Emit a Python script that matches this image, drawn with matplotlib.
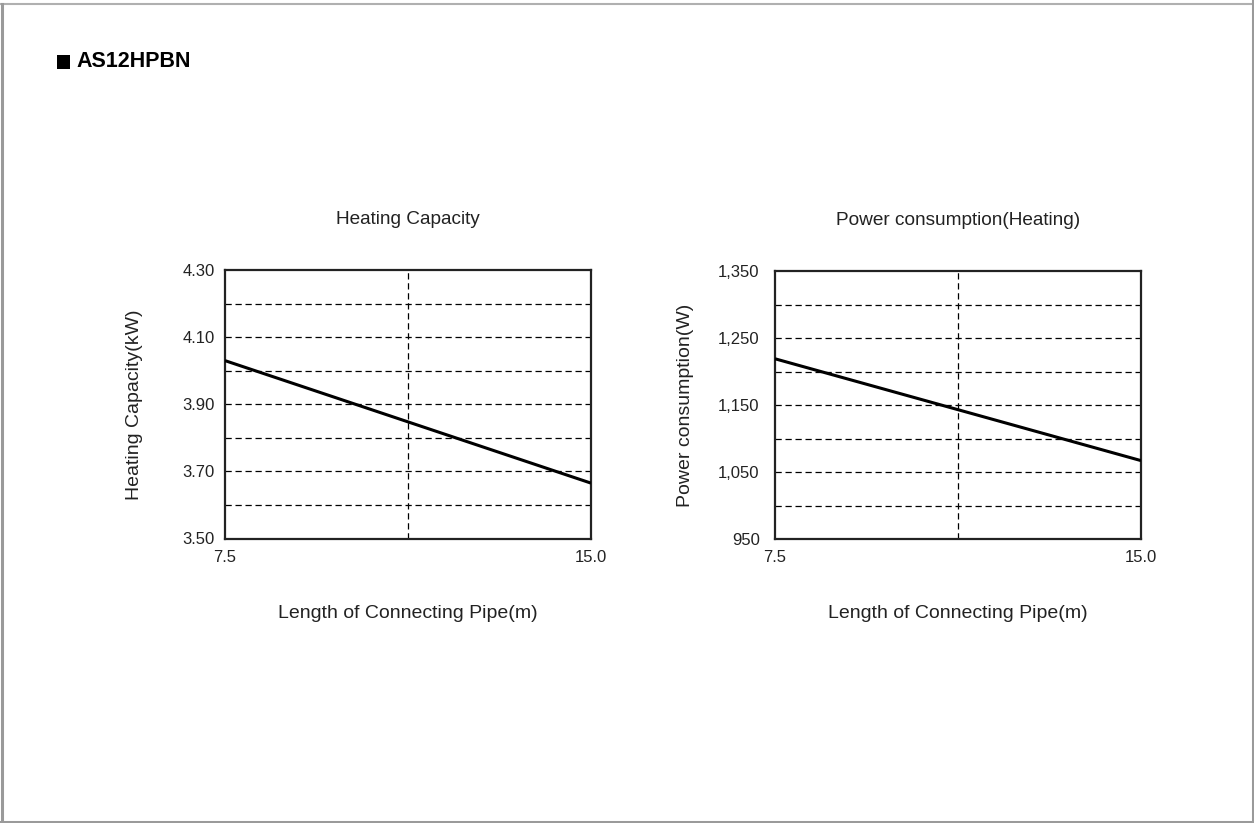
import matplotlib
matplotlib.use("Agg")
import matplotlib.pyplot as plt
from matplotlib.lines import Line2D
from matplotlib.patches import Rectangle

plt.rcParams['font.family'] = ['Liberation Sans', 'DejaVu Sans']

model = "AS12HPBN"
pipe_length = [7.5, 15.0]
heating_capacity = [4.03, 3.665]
power_consumption = [1219, 1067]

cap_ticks = [3.50, 3.70, 3.90, 4.10, 4.30]
cap_ticklabels = ["3.50", "3.70", "3.90", "4.10", "4.30"]
pow_ticks = [950, 1050, 1150, 1250, 1350]
pow_ticklabels = ["950", "1,050", "1,150", "1,250", "1,350"]
x_ticklabels = ["7.5", "15.0"]

fig = plt.figure(figsize=(12.54, 8.23), dpi=100)
W, H = 1254, 823

def fx(px):
    return px / W

def fy(py):
    return 1 - py / H

# page frame
frame_col = "#9a9a9a"
fig.add_artist(Line2D([fx(0), fx(1252)], [fy(4), fy(4)], color="#b0b0b0", lw=1.5))
fig.add_artist(Line2D([fx(1.5), fx(1.5)], [fy(4), fy(821.5)], color=frame_col, lw=2.2))
fig.add_artist(Line2D([fx(1252.5), fx(1252.5)], [fy(0), fy(821.5)], color=frame_col, lw=2.2))
fig.add_artist(Line2D([fx(0), fx(1254)], [fy(821.5), fy(821.5)], color=frame_col, lw=2.2))

fig.add_artist(Rectangle((fx(57), fy(68.5)), fx(12.5), 13.5 / H, color="black", lw=0))
fig.text(fx(76), fy(61.5), model, fontsize=15.5, fontweight="bold",
         ha="left", va="center")

def make_panel(left_px, right_px, top_px, bottom_px, y, ymin, ymax, ystep,
               yticks, yticklabels, title, ylabel, ypad, ylabelpad):
    ax = fig.add_axes([fx(left_px), fy(bottom_px), fx(right_px - left_px),
                       (bottom_px - top_px) / H])
    ax.plot(pipe_length, y, color="black", lw=2.2, solid_capstyle="butt", zorder=3)
    ax.set_xlim(pipe_length[0], pipe_length[1])
    ax.set_ylim(ymin, ymax)
    n = int(round((ymax - ymin) / ystep))
    for i in range(1, n):
        ax.axhline(ymin + i * ystep, color="black", lw=0.9, ls=(0, (5, 3)), zorder=1)
    ax.axvline((pipe_length[0] + pipe_length[1]) / 2, color="black", lw=0.9,
               ls=(0, (5, 3)), zorder=1)
    ax.set_xticks(pipe_length)
    ax.set_xticklabels(x_ticklabels)
    ax.set_yticks(yticks)
    ax.set_yticklabels(yticklabels)
    ax.tick_params(length=0, labelsize=12, colors="#222222")
    ax.tick_params(axis="x", pad=8)
    ax.tick_params(axis="y", pad=ypad)
    for s in ax.spines.values():
        s.set_linewidth(1.6)
        s.set_color("#222222")
    ax.set_title(title, fontsize=13.7, pad=33, color="#222222")
    ax.set_xlabel("Length of Connecting Pipe(m)", fontsize=14, labelpad=29,
                  color="#222222")
    ax.set_ylabel(ylabel, fontsize=14, labelpad=ylabelpad, color="#222222")
    return ax

make_panel(225, 591, 270, 538.5, heating_capacity, 3.50, 4.30, 0.10,
           cap_ticks, cap_ticklabels, "Heating Capacity", "Heating Capacity(kW)",
           7.5, 28)
make_panel(775, 1141, 271, 539, power_consumption, 950, 1350, 50,
           pow_ticks, pow_ticklabels, "Power consumption(Heating)",
           "Power consumption(W)", 11, 17)

fig.savefig("out.png", dpi=100)
